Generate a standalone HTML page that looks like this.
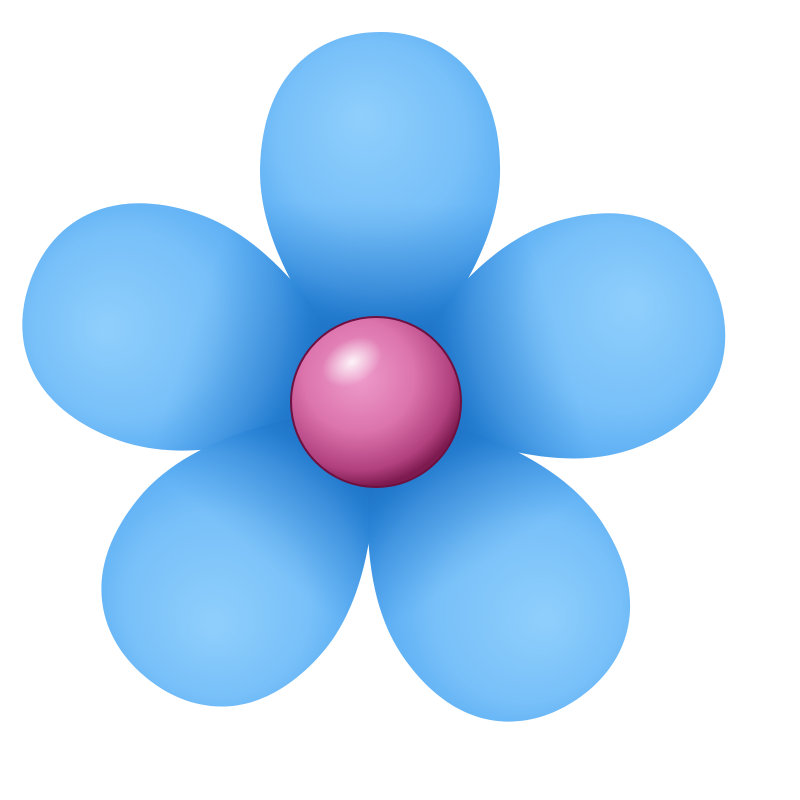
<!DOCTYPE html>
<html><head><meta charset="utf-8"><style>html,body{margin:0;padding:0;background:#fff}svg{display:block}</style></head>
<body>
<svg width="800" height="800" viewBox="0 0 800 800">
<defs>
<radialGradient id="pg" gradientUnits="userSpaceOnUse" cx="0" cy="-250" r="170" fx="-20" fy="-285">
<stop offset="0" stop-color="#8fcffc"/><stop offset="0.55" stop-color="#78c0f9"/><stop offset="0.85" stop-color="#58acf3"/><stop offset="1" stop-color="#3598ec"/>
</radialGradient>
<linearGradient id="pd" gradientUnits="userSpaceOnUse" x1="0" y1="0" x2="0" y2="-200">
<stop offset="0" stop-color="#0a4f9c" stop-opacity="1"/><stop offset="0.35" stop-color="#1565b8" stop-opacity="0.7"/><stop offset="1" stop-color="#2a80d0" stop-opacity="0"/>
</linearGradient>
<path id="petal" d="M0,0 C-40,-50 -122,-140 -120,-235 C-118,-330 -62,-370 0,-370 C62,-370 118,-330 120,-235 C122,-140 40,-50 0,0 Z"/>
<radialGradient id="cg" cx="0.4" cy="0.35" r="0.65">
<stop offset="0" stop-color="#ee9ccb"/><stop offset="0.5" stop-color="#dc74ad"/><stop offset="0.85" stop-color="#b0407e"/><stop offset="1" stop-color="#7d1a4f"/>
</radialGradient>
<radialGradient id="hl" cx="0.5" cy="0.5" r="0.5">
<stop offset="0" stop-color="#fff" stop-opacity="0.9"/><stop offset="1" stop-color="#fff" stop-opacity="0"/>
</radialGradient>
</defs>
<g transform="translate(376,402) rotate(1) scale(1,1)"><use href="#petal" fill="url(#pg)"/><use href="#petal" fill="url(#pd)"/></g>
<g transform="translate(376,402) rotate(-71) scale(1,0.99)"><use href="#petal" fill="url(#pg)"/><use href="#petal" fill="url(#pd)"/></g>
<g transform="translate(376,402) rotate(73) scale(1,0.97)"><use href="#petal" fill="url(#pg)"/><use href="#petal" fill="url(#pd)"/></g>
<g transform="translate(376,402) rotate(-140) scale(1,0.97)"><use href="#petal" fill="url(#pg)"/><use href="#petal" fill="url(#pd)"/></g>
<g transform="translate(376,402) rotate(146) scale(1,0.97)"><use href="#petal" fill="url(#pg)"/><use href="#petal" fill="url(#pd)"/></g>
<g>
<circle cx="376" cy="402" r="85" fill="url(#cg)" stroke="#6e1040" stroke-width="2"/>
<ellipse cx="352" cy="362" rx="32" ry="22" transform="rotate(-30 352 362)" fill="url(#hl)"/>
</g>
</svg>
</body></html>
